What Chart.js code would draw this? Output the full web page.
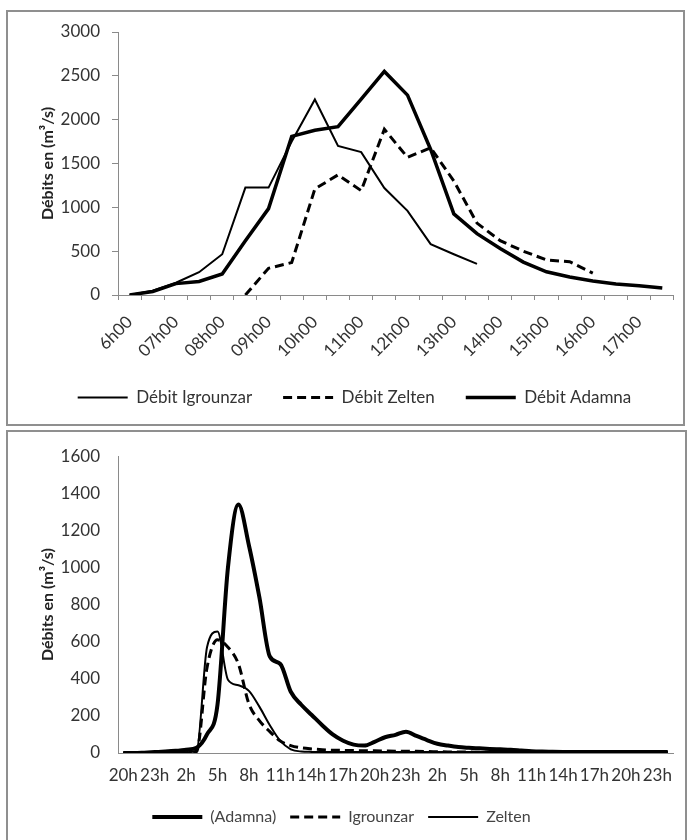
<!DOCTYPE html>
<html><head><meta charset="utf-8">
<script src="https://cdn.jsdelivr.net/npm/chart.js@4"></script>
<style>
html,body{margin:0;padding:0;background:#fff;}
body{width:689px;height:840px;position:relative;overflow:hidden;}
.box{position:absolute;border:2px solid #8f8f8f;box-sizing:border-box;pointer-events:none;}
canvas{position:absolute;left:0;}
</style></head><body>
<canvas id="c1" width="689" height="428" style="top:0"></canvas>
<canvas id="c2" width="689" height="412" style="top:428px"></canvas>
<div class="box" style="left:6px;top:10px;width:679px;height:416px"></div>
<div class="box" style="left:6px;top:430px;width:681px;height:414px"></div>
<script>
// ---- Top chart data (half-hourly) ----
const topCategories = ['6h00','6h30','07h00','07h30','08h00','08h30','09h00','09h30','10h00','10h30','11h00','11h30','12h00','12h30','13h00','13h30','14h00','14h30','15h00','15h30','16h00','16h30','17h00','17h30'];
const topIgrounzar = [0, 50, 140, 260, 465, 1225, 1225, 1750, 2230, 1700, 1630, 1220, 960, 580, 465, 355, null, null, null, null, null, null, null, null];
const topZelten = [null, null, null, null, null, 0, 305, 370, 1210, 1370, 1190, 1890, 1570, 1680, 1300, 820, 620, 500, 400, 380, 250, null, null, null];
const topAdamna = [0, 40, 130, 155, 240, 620, 985, 1810, 1880, 1920, 2235, 2550, 2280, 1660, 925, 700, 530, 375, 265, 205, 160, 125, 105, 80];
const topYTicks = [0, 500, 1000, 1500, 2000, 2500, 3000];

// ---- Bottom chart data (hourly) ----
const bottomCategories = ['20h','21h','22h','23h','0h','1h','2h','3h','4h','5h','6h','7h','8h','9h','10h','11h','12h','13h','14h','15h','16h','17h','18h','19h','20h','21h','22h','23h','0h','1h','2h','3h','4h','5h','6h','7h','8h','9h','10h','11h','12h','13h','14h','15h','16h','17h','18h','19h','20h','21h','22h','23h','0h'];
const bottomAdamna = [0, 0, 2, 5, 8, 12, 18, 28, 100, 260, 1000, 1340, 1120, 840, 520, 480, 330, 260, 205, 150, 100, 66, 45, 40, 60, 85, 98, 115, 92, 70, 50, 40, 32, 28, 25, 22, 20, 18, 14, 10, 8, 7, 6, 5, 5, 5, 5, 5, 5, 5, 5, 5, 5];
const bottomIgrounzar = [0, 0, 0, 0, 0, 0, 2, 8, 460, 610, 570, 480, 265, 175, 115, 65, 40, 28, 22, 18, 15, 14, 13, 12, 12, 11, 10, 10, 9, 8, 7, 6, 5, 5, 4, 4, 3, 3, 3, 3, 3, 3, 3, 3, 3, 3, 3, 3, 3, 3, 3, 3, 3];
const bottomZelten = [0, 0, 0, 0, 0, 2, 4, 12, 570, 655, 395, 365, 335, 250, 150, 65, 20, 8, 6, 5, 5, 5, 5, 5, 5, 5, 5, 5, 5, 5, 5, 5, 5, 5, 5, 5, 5, 5, 5, 5, 5, 5, 5, 5, 5, 5, 5, 5, 5, 5, 5, 5, 5];
const bottomYTicks = [0, 200, 400, 600, 800, 1000, 1200, 1400, 1600];

Chart.defaults.font.family = 'Lato, "Open Sans", sans-serif';
Chart.defaults.color = '#333';
Chart.defaults.animation = false;

const axisGrey = '#8a8a8a';
const yTitle = 'Débits en (m³/s)';

function legendOpts(pad, size, color) {
  return {
    display: true,
    position: 'bottom',
    labels: {
      usePointStyle: true,
      pointStyle: 'line',
      pointStyleWidth: 50,
      padding: pad,
      color: color,
      font: { size: size },
      generateLabels: function (chart) {
        return chart.data.datasets.map(function (ds, i) {
          return {
            text: ds.label,
            datasetIndex: i,
            fillStyle: ds.borderColor,
            strokeStyle: ds.borderColor,
            lineWidth: ds.borderWidth,
            lineDash: ds.borderDash || [],
            lineCap: 'butt',
            pointStyle: 'line',
            hidden: false,
            fontColor: color
          };
        });
      }
    }
  };
}

function plainTick(v) { return String(v); }

new Chart(document.getElementById('c1'), {
  type: 'line',
  data: {
    labels: topCategories,
    datasets: [
      { label: 'Débit Igrounzar', data: topIgrounzar, borderColor: '#000', borderWidth: 2, pointRadius: 0, tension: 0, fill: false },
      { label: 'Débit Zelten', data: topZelten, borderColor: '#000', borderWidth: 3, borderDash: [9, 5], pointRadius: 0, tension: 0, fill: false },
      { label: 'Débit Adamna', data: topAdamna, borderColor: '#000', borderWidth: 3.5, pointRadius: 0, tension: 0, fill: false }
    ]
  },
  options: {
    responsive: false,
    layout: { padding: { left: 34, right: 14, top: 32, bottom: 12 } },
    plugins: { legend: legendOpts(31, 17, '#333'), tooltip: { enabled: false } },
    scales: {
      x: {
        type: 'category',
        offset: true,
        grid: { display: true, drawOnChartArea: false, offset: true, tickLength: 5, color: axisGrey },
        border: { display: true, color: axisGrey, width: 1 },
        ticks: {
          autoSkip: false, minRotation: 45, maxRotation: 45, padding: 12,
          font: { size: 17 }, color: '#333',
          callback: function (v, i) { return i % 2 === 0 ? topCategories[i] : ''; }
        },
        afterFit: function (s) { s.height = 63; }
      },
      y: {
        min: 0, max: 3000,
        afterBuildTicks: function (s) { s.ticks = topYTicks.map(v => ({ value: v })); },
        grid: { display: true, drawOnChartArea: false, tickLength: 6, color: axisGrey },
        border: { display: true, color: axisGrey, width: 1 },
        ticks: { padding: 12, font: { size: 17 }, color: '#333', callback: plainTick },
        title: { display: true, text: yTitle, font: { size: 16, weight: 'bold' }, color: '#222', padding: { top: 4, bottom: 0 } },
        afterFit: function (s) { s.width = 84; }
      }
    }
  }
});

new Chart(document.getElementById('c2'), {
  type: 'line',
  data: {
    labels: bottomCategories,
    datasets: [
      { label: '(Adamna)', data: bottomAdamna, borderColor: '#000', borderWidth: 4, pointRadius: 0, cubicInterpolationMode: 'monotone', fill: false },
      { label: 'Igrounzar', data: bottomIgrounzar, borderColor: '#000', borderWidth: 3, borderDash: [9, 5], pointRadius: 0, cubicInterpolationMode: 'monotone', fill: false },
      { label: 'Zelten', data: bottomZelten, borderColor: '#000', borderWidth: 2, pointRadius: 0, cubicInterpolationMode: 'monotone', fill: false }
    ]
  },
  options: {
    responsive: false,
    layout: { padding: { left: 34, right: 16, top: 24, bottom: 5 } },
    plugins: { legend: legendOpts(14, 16, '#444'), tooltip: { enabled: false } },
    scales: {
      x: {
        type: 'category',
        offset: true,
        grid: { display: false, drawTicks: false },
        border: { display: true, color: axisGrey, width: 1 },
        ticks: {
          autoSkip: false, minRotation: 0, maxRotation: 0, padding: 12,
          font: { size: 17 }, color: '#333',
          callback: function (v, i) { return i % 3 === 0 ? bottomCategories[i] : ''; }
        },
        afterFit: function (s) { s.height = 42; }
      },
      y: {
        min: 0, max: 1600,
        afterBuildTicks: function (s) { s.ticks = bottomYTicks.map(v => ({ value: v })); },
        grid: { display: false, drawTicks: false },
        border: { display: true, color: axisGrey, width: 1 },
        ticks: { padding: 18, font: { size: 17 }, color: '#333', callback: plainTick },
        title: { display: true, text: yTitle, font: { size: 16, weight: 'bold' }, color: '#222', padding: { top: 4, bottom: 0 } },
        afterFit: function (s) { s.width = 84; }
      }
    }
  },
  plugins: [{
    id: 'shiftLegend',
    afterLayout: function (chart) {
      if (chart.legend) { chart.legend.left -= 12; chart.legend.right -= 12; }
    }
  }]
});
</script>
</body></html>
